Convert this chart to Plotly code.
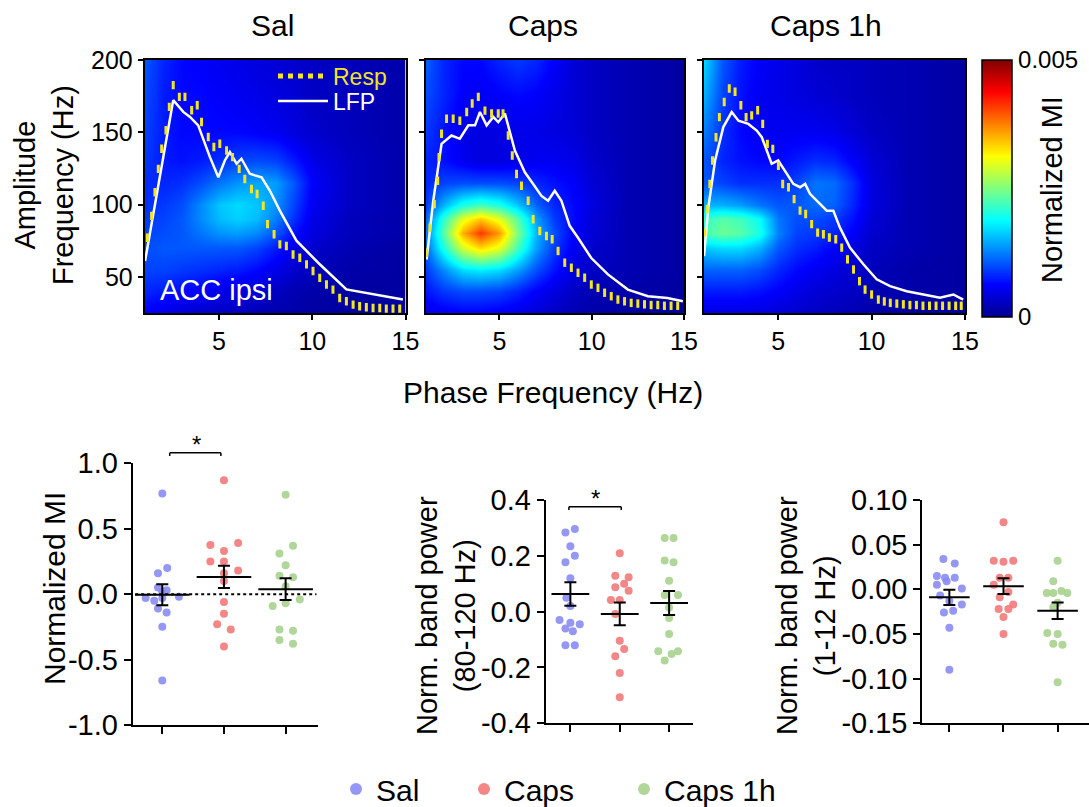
import plotly.graph_objects as go

W, H = 1089, 807
FONT = "Arial, 'Liberation Sans', Helvetica, sans-serif"

# ---------------- data: comodulograms (Normalized MI, units of 0.001) ----------------
phase_hz = [1, 2, 3, 4, 5, 6, 7, 8, 9, 10, 12, 15]
amp_hz = [25, 40, 55, 70, 80, 90, 100, 115, 130, 150, 175, 200]

pac_sal = [
    [0.6, 0.5, 0.4, 0.35, 0.3, 0.25, 0.2, 0.15, 0.15, 0.1, 0.1, 0.1],
    [0.8, 0.75, 0.65, 0.6, 0.5, 0.45, 0.4, 0.3, 0.2, 0.15, 0.1, 0.1],
    [0.95, 0.95, 0.9, 0.85, 0.8, 0.75, 0.65, 0.5, 0.35, 0.25, 0.15, 0.1],
    [1.0, 1.05, 1.05, 1.05, 1.05, 1.05, 0.95, 0.75, 0.5, 0.35, 0.2, 0.1],
    [0.95, 1.0, 1.05, 1.2, 1.35, 1.4, 1.3, 1.05, 0.7, 0.45, 0.25, 0.15],
    [0.9, 0.95, 1.05, 1.3, 1.55, 1.65, 1.55, 1.25, 0.85, 0.5, 0.25, 0.15],
    [0.85, 0.9, 1.0, 1.3, 1.6, 1.7, 1.6, 1.35, 0.95, 0.55, 0.3, 0.15],
    [0.85, 0.8, 0.85, 1.0, 1.2, 1.35, 1.45, 1.4, 1.05, 0.6, 0.3, 0.15],
    [0.9, 0.75, 0.7, 0.75, 0.85, 0.95, 1.0, 0.95, 0.75, 0.5, 0.3, 0.15],
    [0.95, 0.75, 0.65, 0.65, 0.65, 0.65, 0.6, 0.55, 0.45, 0.35, 0.25, 0.15],
    [1.0, 0.75, 0.65, 0.65, 0.6, 0.55, 0.5, 0.45, 0.4, 0.3, 0.25, 0.15],
    [1.05, 0.8, 0.65, 0.6, 0.55, 0.5, 0.45, 0.4, 0.35, 0.3, 0.25, 0.15],
]
pac_caps = [
    [0.5, 0.55, 0.6, 0.6, 0.55, 0.5, 0.4, 0.3, 0.2, 0.15, 0.1, 0.1],
    [0.7, 0.9, 1.0, 1.0, 0.95, 0.8, 0.6, 0.45, 0.3, 0.2, 0.15, 0.1],
    [0.9, 1.3, 1.7, 1.8, 1.7, 1.4, 1.0, 0.7, 0.45, 0.3, 0.2, 0.1],
    [1.1, 2.0, 2.9, 3.3, 3.0, 2.2, 1.4, 0.9, 0.55, 0.35, 0.2, 0.1],
    [1.2, 2.3, 3.5, 4.1, 3.6, 2.5, 1.5, 1.0, 0.6, 0.4, 0.2, 0.1],
    [1.1, 2.1, 3.0, 3.4, 3.0, 2.3, 1.4, 0.9, 0.65, 0.4, 0.2, 0.1],
    [0.9, 1.5, 2.0, 2.2, 2.0, 1.6, 1.1, 0.8, 0.65, 0.45, 0.2, 0.1],
    [0.8, 0.95, 1.0, 1.0, 1.0, 0.95, 0.8, 0.7, 0.6, 0.4, 0.2, 0.1],
    [0.8, 0.7, 0.55, 0.45, 0.45, 0.5, 0.55, 0.55, 0.5, 0.35, 0.2, 0.1],
    [0.9, 0.7, 0.5, 0.45, 0.45, 0.5, 0.5, 0.45, 0.4, 0.3, 0.2, 0.1],
    [1.0, 0.8, 0.6, 0.55, 0.6, 0.65, 0.6, 0.5, 0.4, 0.3, 0.2, 0.1],
    [1.1, 0.8, 0.65, 0.65, 0.8, 0.9, 0.8, 0.6, 0.4, 0.3, 0.2, 0.1],
]
pac_caps1h = [
    [0.45, 0.45, 0.45, 0.45, 0.4, 0.35, 0.3, 0.25, 0.2, 0.15, 0.1, 0.1],
    [0.75, 0.75, 0.75, 0.7, 0.6, 0.5, 0.4, 0.35, 0.3, 0.2, 0.15, 0.1],
    [1.1, 1.1, 1.1, 1.0, 0.8, 0.65, 0.55, 0.45, 0.35, 0.25, 0.15, 0.1],
    [1.6, 1.7, 1.7, 1.5, 1.05, 0.85, 0.75, 0.6, 0.45, 0.3, 0.2, 0.1],
    [2.2, 2.4, 2.3, 2.0, 1.25, 0.95, 0.9, 0.8, 0.6, 0.35, 0.2, 0.1],
    [2.1, 2.3, 2.2, 1.9, 1.2, 1.0, 1.0, 0.9, 0.7, 0.4, 0.2, 0.1],
    [1.5, 1.5, 1.4, 1.2, 1.05, 1.05, 1.15, 1.1, 0.8, 0.45, 0.2, 0.1],
    [1.05, 0.95, 0.85, 0.85, 0.85, 0.95, 1.2, 1.15, 0.85, 0.45, 0.2, 0.1],
    [1.05, 0.8, 0.7, 0.65, 0.65, 0.75, 0.85, 0.8, 0.6, 0.4, 0.2, 0.1],
    [1.25, 0.85, 0.65, 0.55, 0.55, 0.55, 0.55, 0.5, 0.4, 0.3, 0.2, 0.1],
    [1.5, 0.95, 0.7, 0.55, 0.5, 0.45, 0.4, 0.35, 0.3, 0.25, 0.2, 0.1],
    [1.7, 1.05, 0.75, 0.6, 0.5, 0.45, 0.35, 0.3, 0.3, 0.25, 0.2, 0.1],
]

# ---------------- data: power spectra overlays (amplitude-frequency axis units) ----------------
lfp_sal_x = [1.03, 2.54, 3.08, 3.44, 3.88, 4.15, 4.51, 4.96, 5.31, 5.58, 5.94, 6.2, 6.65, 6.92, 7.28, 7.72, 8.26, 9.15, 10.4, 11.83, 13.26, 14.86]
lfp_sal_y = [60.9, 172.2, 164.1, 160.6, 154.8, 145.5, 132.8, 118.9, 130.5, 136.3, 128.2, 131.7, 121.3, 120.2, 118.9, 109.7, 95.8, 75.0, 58.7, 41.3, 37.8, 34.3]
resp_sal_x = [1.15, 1.38, 1.56, 1.74, 1.92, 2.15, 2.33, 2.54, 2.87, 3.17, 3.53, 3.83, 4.06, 4.42, 4.72, 5.04, 5.4, 5.72, 6.08, 6.38, 6.74, 7.04, 7.37, 7.6, 7.95, 8.26, 8.61, 8.97, 9.33, 9.69, 10.04, 10.4, 10.76, 11.11, 11.47, 11.83, 12.19, 12.54, 12.9, 13.26, 13.62, 13.97, 14.33, 14.69]
resp_sal_y = [77.1, 92.2, 108.5, 124.7, 138.6, 151.4, 167.6, 182.6, 174.5, 174.5, 165.2, 168.7, 157.1, 146.7, 139.8, 142.1, 137.4, 132.8, 124.7, 117.7, 110.8, 107.3, 99.2, 86.5, 79.5, 72.5, 71.3, 65.5, 63.2, 58.6, 54.0, 49.3, 44.7, 41.2, 35.4, 33.1, 30.8, 29.7, 29.0, 28.5, 28.5, 28.0, 28.0, 28.0]

lfp_caps_x = [1.06, 1.42, 1.87, 2.41, 2.86, 3.32, 3.68, 3.95, 4.31, 4.67, 4.94, 5.3, 5.84, 6.38, 6.83, 7.28, 7.64, 8.0, 8.36, 8.81, 9.26, 9.98, 10.88, 11.96, 13.05, 14.1, 14.94]
lfp_caps_y = [62.0, 102.6, 142.0, 147.8, 145.5, 154.8, 154.8, 164.0, 154.8, 160.6, 157.0, 163.0, 137.4, 122.3, 114.3, 106.0, 102.6, 109.6, 102.6, 85.3, 77.0, 63.0, 51.7, 41.2, 36.6, 35.4, 33.1]
resp_caps_x = [1.06, 1.24, 1.48, 1.66, 1.73, 1.87, 2.14, 2.5, 2.86, 3.23, 3.53, 3.86, 4.22, 4.58, 4.94, 5.2, 5.48, 5.7, 5.93, 6.2, 6.56, 6.83, 7.19, 7.55, 7.86, 8.18, 8.54, 8.9, 9.26, 9.62, 9.98, 10.34, 10.7, 11.06, 11.42, 11.78, 12.14, 12.5, 12.86, 13.22, 13.58, 13.94, 14.3, 14.66]
resp_caps_y = [66.7, 84.0, 100.3, 116.5, 132.8, 149.0, 159.4, 159.4, 158.0, 164.0, 169.9, 174.5, 165.0, 163.0, 163.0, 163.0, 147.8, 133.9, 121.1, 113.0, 102.6, 89.8, 81.7, 78.3, 76.0, 67.9, 59.8, 56.3, 52.8, 49.4, 44.7, 42.4, 39.0, 36.6, 34.3, 33.1, 32.0, 31.5, 31.0, 30.5, 30.5, 30.0, 30.0, 30.0]

lfp_caps1h_x = [1.03, 1.26, 1.62, 2.06, 2.51, 2.87, 3.4, 3.85, 4.12, 4.65, 5.0, 5.46, 5.81, 6.17, 6.44, 6.7, 7.06, 7.6, 7.95, 8.3, 8.84, 9.56, 10.27, 10.99, 11.88, 12.77, 13.66, 14.38, 14.9]
lfp_caps1h_y = [64.4, 98.0, 130.5, 153.6, 164.0, 158.0, 155.8, 151.2, 146.6, 128.2, 130.5, 121.2, 114.3, 112.0, 114.3, 107.4, 102.8, 95.8, 95.8, 84.2, 70.2, 58.7, 48.3, 43.6, 40.1, 37.8, 35.5, 37.8, 34.3]
resp_caps1h_x = [1.07, 1.2, 1.34, 1.48, 1.67, 1.85, 2.11, 2.38, 2.69, 3.0, 3.28, 3.58, 3.9, 4.17, 4.42, 4.71, 5.01, 5.24, 5.55, 5.85, 6.17, 6.47, 6.79, 7.11, 7.42, 7.74, 8.08, 8.4, 8.71, 9.03, 9.35, 9.65, 10.0, 10.36, 10.68, 11.0, 11.35, 11.7, 12.05, 12.4, 12.75, 13.1, 13.45, 13.8, 14.15, 14.5, 14.8]
resp_caps1h_y = [80.6, 96.8, 114.2, 130.5, 146.6, 160.5, 171.0, 180.3, 178.0, 168.7, 160.5, 161.7, 165.2, 155.8, 142.0, 138.5, 126.9, 114.2, 112.0, 103.8, 95.8, 93.5, 86.5, 80.6, 79.5, 77.2, 76.0, 70.2, 62.1, 55.1, 47.0, 41.2, 37.8, 34.3, 33.0, 32.0, 31.5, 31.0, 30.5, 30.5, 30.0, 30.0, 30.0, 30.0, 30.0, 30.0, 30.0]

heat_titles = ["Sal", "Caps", "Caps 1h"]
heat_yticks = [50, 100, 150, 200]
heat_xticks = [5, 10, 15]
cbar_ticks = [0, 5]
cbar_ticktext = ["0", "0.005"]

# ---------------- data: group scatter plots ----------------
groups = ["Sal", "Caps", "Caps 1h"]

mi_sal = [0.77, 0.20, 0.16, 0.05, 0.03, 0.02, -0.03, -0.05, -0.03, -0.02, -0.11, -0.14, -0.25, -0.66]
mi_caps = [0.87, 0.375, 0.39, 0.33, 0.25, 0.25, 0.18, 0.16, 0.10, -0.06, -0.15, -0.23, -0.27, -0.40]
mi_caps1h = [0.76, 0.37, 0.31, 0.22, 0.14, 0.13, 0.06, -0.09, -0.07, -0.04, -0.27, -0.28, -0.35, -0.38]
mi_mean = [-0.005, 0.132, 0.038]
mi_sem = [0.08, 0.085, 0.083]

hg_sal = [0.284, 0.296, 0.234, 0.177, 0.20, 0.12, 0.05, 0.02, -0.03, -0.04, -0.045, -0.06, -0.07, -0.12, -0.12]
hg_caps = [0.209, 0.129, 0.123, 0.087, 0.10, 0.075, 0.042, 0.042, -0.008, -0.104, -0.134, -0.16, -0.22, -0.307]
hg_caps1h = [0.264, 0.264, 0.183, 0.177, 0.111, 0.06, 0.06, 0.015, -0.023, -0.08, -0.142, -0.142, -0.152, -0.175]
hg_mean = [0.063, -0.008, 0.031]
hg_sem = [0.042, 0.041, 0.043]

lf_sal = [0.034, 0.029, 0.015, 0.013, 0.013, 0.005, 0.009, 0.001, -0.007, -0.013, -0.017, -0.026, -0.024, -0.043, -0.09]
lf_caps = [0.075, 0.032, 0.031, 0.032, 0.013, 0.013, 0.005, -0.009, -0.003, -0.017, -0.022, -0.022, -0.031, -0.05]
lf_caps1h = [0.032, 0.009, -0.004, -0.004, -0.002, -0.004, -0.015, -0.02, -0.049, -0.05, -0.061, -0.062, -0.104]
lf_mean = [-0.009, 0.0035, -0.024]
lf_sem = [0.0086, 0.0088, 0.0093]

mi_ticks = [-1.0, -0.5, 0.0, 0.5, 1.0]
mi_ticktext = ["-1.0", "-0.5", "0.0", "0.5", "1.0"]
hg_ticks = [-0.4, -0.2, 0.0, 0.2, 0.4]
hg_ticktext = ["-0.4", "-0.2", "0.0", "0.2", "0.4"]
lf_ticks = [-0.15, -0.10, -0.05, 0.0, 0.05, 0.10]
lf_ticktext = ["-0.15", "-0.10", "-0.05", "0.00", "0.05", "0.10"]

# ---------------- layout helpers (positions / styles only) ----------------
# horizontal jitter of dots within each group (beeswarm placement)
jit_mi = [
    [0, 0.08, -0.07, -0.07, 0.07, 0, -0.27, -0.13, 0, 0.27, -0.07, 0.07, 0, 0],
    [0, -0.22, 0.23, 0, -0.22, 0, 0.23, 0, 0, 0, 0, -0.11, 0.11, 0],
    [0, 0.12, -0.1, 0, -0.1, 0.12, 0, -0.21, 0, 0.23, -0.1, 0.12, -0.1, 0.12],
]
jit_hg = [
    [-0.1, 0.09, 0, -0.1, 0.09, 0, -0.08, 0, -0.22, 0, 0.19, -0.1, 0.05, -0.1, 0.09],
    [0, -0.09, 0.18, -0.09, 0.09, 0.18, -0.18, 0, -0.09, 0, 0.09, -0.09, 0, 0],
    [-0.09, 0.09, -0.09, 0.09, 0, -0.09, 0.18, 0, 0, 0, -0.22, 0.18, 0.05, -0.09],
]
jit_lf = [
    [-0.11, 0.1, -0.23, -0.08, 0.1, -0.23, -0.05, 0.23, -0.17, 0, 0.23, -0.1, 0.07, 0, 0],
    [0, -0.18, 0, 0.18, -0.07, 0.09, -0.18, -0.07, 0.09, 0.18, -0.09, 0.09, 0, 0],
    [0, -0.08, -0.2, -0.08, 0.07, 0.18, 0, -0.08, -0.19, 0, -0.08, 0.09, 0],
]

def fx(p):
    return p / W

def fy(p):
    return 1 - p / H

GROUP_COLORS = ["#8a8cf3", "#f27a7a", "#a9d18e"]
YELLOW = "#f2e526"
JET = [[0.0, "rgb(0,0,143)"], [0.125, "rgb(0,0,255)"], [0.375, "rgb(0,255,255)"],
       [0.625, "rgb(255,255,0)"], [0.875, "rgb(255,0,0)"], [1.0, "rgb(128,0,0)"]]

heat_dom_x = [(144.5, 405.5), (425.5, 684.0), (703.5, 965.0)]
heat_dom_y = (60.0, 313.0)

fig = go.Figure()

heat_sets = [
    (pac_sal, lfp_sal_x, lfp_sal_y, resp_sal_x, resp_sal_y),
    (pac_caps, lfp_caps_x, lfp_caps_y, resp_caps_x, resp_caps_y),
    (pac_caps1h, lfp_caps1h_x, lfp_caps1h_y, resp_caps1h_x, resp_caps1h_y),
]

for i, (z, lx, ly, rx, ry) in enumerate(heat_sets):
    sfx = "" if i == 0 else str(i + 1)
    fig.add_trace(go.Heatmap(
        x=phase_hz, y=amp_hz, z=z, zmin=0, zmax=5, zsmooth="best",
        colorscale=JET, showscale=(i == 2), xaxis="x" + sfx, yaxis="y" + sfx,
        hoverinfo="skip",
        colorbar=dict(x=fx(981.5), xanchor="left", thickness=30, thicknessmode="pixels",
                      len=257, lenmode="pixels", y=fy(188), yanchor="middle",
                      tickvals=cbar_ticks, ticktext=cbar_ticktext, ticks="",
                      tickfont=dict(size=24, family=FONT, color="black"),
                      outlinewidth=1.5, outlinecolor="black", xpad=0, ypad=0),
    ))
    fig.add_trace(go.Scatter(x=lx, y=ly, mode="lines", xaxis="x" + sfx, yaxis="y" + sfx,
                             line=dict(color="white", width=2.5), showlegend=False, hoverinfo="skip"))
    fig.add_trace(go.Scatter(x=rx, y=ry, mode="markers", xaxis="x" + sfx, yaxis="y" + sfx,
                             marker=dict(symbol="line-ns", size=6, color=YELLOW,
                                         line=dict(color=YELLOW, width=3)),
                             showlegend=False, hoverinfo="skip"))

# legend entries inside the first comodulogram
fig.add_trace(go.Scatter(x=[None], y=[None], mode="lines", xaxis="x", yaxis="y",
                         name="<span style='color:%s'>Resp</span>" % YELLOW,
                         line=dict(color=YELLOW, width=5, dash="dot"), legend="legend2"))
fig.add_trace(go.Scatter(x=[None], y=[None], mode="lines", xaxis="x", yaxis="y",
                         name="LFP", line=dict(color="white", width=2.5), legend="legend3"))

# bottom scatter plots
bottom_sets = [
    ([mi_sal, mi_caps, mi_caps1h], jit_mi, mi_mean, mi_sem, "4", 39),
    ([hg_sal, hg_caps, hg_caps1h], jit_hg, hg_mean, hg_sem, "5", 27),
    ([lf_sal, lf_caps, lf_caps1h], jit_lf, lf_mean, lf_sem, "6", 29),
]
legend_w = [83, 115, 130]
for j, (vals, jits, means, sems, ax, mw) in enumerate(bottom_sets):
    for g in range(3):
        fig.add_trace(go.Scatter(
            x=[g + o for o in jits[g]], y=vals[g], mode="markers",
            xaxis="x" + ax, yaxis="y" + ax, name=groups[g],
            marker=dict(size=8, color=GROUP_COLORS[g], opacity=0.9),
            showlegend=(j == 0), legendwidth=legend_w[g], cliponaxis=False,
        ))
    fig.add_trace(go.Scatter(
        x=[0, 1, 2], y=means, mode="markers", xaxis="x" + ax, yaxis="y" + ax,
        marker=dict(symbol="line-ew", size=mw, color="black", line=dict(color="black", width=2)),
        error_y=dict(type="data", array=sems, width=6, thickness=2, color="black"),
        showlegend=False, cliponaxis=False,
    ))

heat_axis_common = dict(showline=True, mirror=True, linecolor="black", linewidth=1.5,
                        ticks="outside", ticklen=5, tickwidth=1.5, tickcolor="black",
                        showgrid=False, zeroline=False,
                        tickfont=dict(size=25, family=FONT, color="black"))

layout = dict(
    width=W, height=H, margin=dict(l=0, r=0, t=0, b=0, autoexpand=False),
    paper_bgcolor="white", plot_bgcolor="white",
    font=dict(family=FONT, color="black"),
    showlegend=True,
    legend=dict(orientation="h", x=fx(336), xanchor="left", y=fy(789), yanchor="middle",
                font=dict(size=30, family=FONT, color="black"), bgcolor="rgba(0,0,0,0)",
                itemsizing="constant"),
    legend2=dict(x=fx(273), xanchor="left", y=fy(76), yanchor="middle", itemwidth=50,
                 font=dict(size=23, family=FONT, color="white"), bgcolor="rgba(0,0,0,0)"),
    legend3=dict(x=fx(273), xanchor="left", y=fy(101), yanchor="middle", itemwidth=50,
                 font=dict(size=23, family=FONT, color="white"), bgcolor="rgba(0,0,0,0)"),
)

for i in range(3):
    sfx = "" if i == 0 else str(i + 1)
    x0, x1 = heat_dom_x[i]
    layout["xaxis" + sfx] = dict(domain=[fx(x0), fx(x1)], range=[1, 15], anchor="y" + sfx,
                                 tickvals=heat_xticks, **heat_axis_common)
    layout["yaxis" + sfx] = dict(domain=[fy(heat_dom_y[1]), fy(heat_dom_y[0])], range=[25, 200],
                                 anchor="x" + sfx, tickvals=heat_yticks,
                                 showticklabels=(i == 0), **heat_axis_common)

bottom_axes = [
    ("4", (132.7, 318.3), (463.3, 725.0), [-0.48, 2.53], [-1.0, 1.0], mi_ticks, mi_ticktext),
    ("5", (545.7, 693.3), (500.0, 723.3), [-0.5, 2.49], [-0.4, 0.4], hg_ticks, hg_ticktext),
    ("6", (922.3, 1089.0), (500.0, 723.3), [-0.5, 2.58], [-0.15, 0.10], lf_ticks, lf_ticktext),
]
for ax, (xa, xb), (ya, yb), xr, yr, tv, tt in bottom_axes:
    layout["xaxis" + ax] = dict(domain=[fx(xa), fx(xb)], range=xr, anchor="y" + ax,
                                showline=True, linecolor="black", linewidth=2,
                                ticks="outside", ticklen=7, tickwidth=2, tickcolor="black",
                                tickvals=[0, 1, 2], showticklabels=False,
                                showgrid=False, zeroline=False)
    layout["yaxis" + ax] = dict(domain=[fy(yb), fy(ya)], range=yr, anchor="x" + ax,
                                showline=True, linecolor="black", linewidth=2,
                                ticks="outside", ticklen=7, tickwidth=2, tickcolor="black",
                                tickvals=tv, ticktext=tt, showgrid=False, zeroline=False,
                                tickfont=dict(size=29, family=FONT, color="black"))

fig.update_layout(**layout)

# dotted zero reference line in MI plot
fig.add_shape(type="line", xref="x4", yref="y4", x0=-0.44, x1=2.5, y0=0, y1=0,
              line=dict(color="black", width=2, dash="dot"))

# significance brackets (category units converted to domain fractions)
def bracket(ax, xr, c0, c1, ydom, drop):
    d0 = (c0 - xr[0]) / (xr[1] - xr[0])
    d1 = (c1 - xr[0]) / (xr[1] - xr[0])
    ref = dict(xref="x%s domain" % ax, yref="y%s domain" % ax)
    line = dict(color="black", width=1.5)
    fig.add_shape(type="line", x0=d0, x1=d1, y0=ydom, y1=ydom, line=line, **ref)
    fig.add_shape(type="line", x0=d0, x1=d0, y0=ydom, y1=ydom - drop, line=line, **ref)
    fig.add_shape(type="line", x0=d1, x1=d1, y0=ydom, y1=ydom - drop, line=line, **ref)

bracket("4", [-0.48, 2.53], 0.12, 0.95, 1.040, 0.012)
bracket("5", [-0.5, 2.49], -0.03, 1.03, 0.970, 0.015)

def ann(text, x, y, size, angle=0, color="black"):
    return dict(text=text, x=fx(x), y=fy(y), xref="paper", yref="paper", showarrow=False,
                font=dict(size=size, color=color, family=FONT), textangle=angle,
                xanchor="center", yanchor="middle")

annotations = [
    ann(heat_titles[0], 272, 25, 30),
    ann(heat_titles[1], 543, 25, 30),
    ann(heat_titles[2], 826, 25, 30),
    ann("Amplitude<br>Frequency (Hz)", 44, 185, 29, -90),
    ann("Phase Frequency (Hz)", 553, 392, 30),
    ann("ACC ipsi", 216, 290, 29, 0, "white"),
    ann("Normalized MI", 1052, 190, 29, -90),
    ann("Normalized MI", 54, 589, 30, -90),
    ann("Norm. band power<br>(80-120 Hz)", 446, 616, 29, -90),
    ann("Norm. band power<br>(1-12 Hz)", 806, 616, 29, -90),
    ann("*", 196, 444, 24),
    ann("*", 595, 498, 24),
]
fig.update_layout(annotations=annotations)

fig.write_html("out.html")
